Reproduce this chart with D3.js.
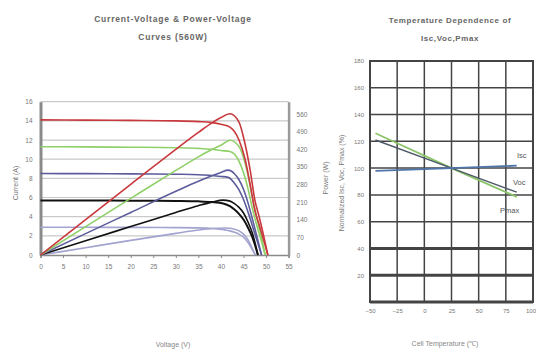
<!DOCTYPE html>
<html><head><meta charset="utf-8">
<script src="https://cdn.jsdelivr.net/npm/d3@7"></script>
<style>body{margin:0;background:#fff}svg{display:block}text{font-family:Arial,"Liberation Sans",sans-serif}</style>
</head><body>
<svg id="c" width="536" height="349"></svg>
<script>
// ---------- Left chart data ----------
const voltTicks = [0,5,10,15,20,25,30,35,40,45,50,55];
const currentTicks = [0,2,4,6,8,10,12,14,16];
const powerTicks = [0,70,140,210,280,350,420,490,560];
const seriesNames = ["1000","800","600","400","200"];
const seriesColors = ["#c8383c","#8fd068","#5c5c9c","#111111","#a3a3cf"];

const vRed   = [0,10,20,30,35,38,40,42,44,45.3,46.5,47.5,48.5,49.5,50.4];
const iRed   = [14.1,14.08,14.05,14.0,13.92,13.82,13.65,13.35,12.0,10.1,7.3,4.7,3.1,1.5,0];
const pRed   = [0,141,281,420,487,525,546,561,528,445,335,220,150,74,0];

const vGreen = [0,10,20,30,35,38,40,42,44,45,46,47,48,49,49.8];
const iGreen = [11.3,11.28,11.25,11.2,11.13,11.03,10.9,10.8,9.8,8.6,6.9,4.8,3.0,1.4,0];
const pGreen = [0,113,225,336,390,419,436,456,431,387,317,226,144,69,0];

const vBlue  = [0,10,20,30,35,38,40,41.6,43,44,45,46,47,48,49];
const iBlue  = [8.5,8.49,8.47,8.43,8.38,8.3,8.2,8.1,7.5,6.8,5.8,4.5,3.0,1.5,0];
const pBlue  = [0,85,169,253,293,315,328,337,323,299,261,207,141,72,0];

const vBlack = [0,10,20,30,35,38,40.5,42,43,44,45,46,47,48.2];
const iBlack = [5.7,5.69,5.67,5.64,5.6,5.53,5.38,5.1,4.75,4.3,3.7,2.85,1.8,0];
const pBlack = [0,57,113,169,196,210,218,214,204,189,167,131,85,0];

const vPurple = [0,10,20,30,35,38,40.9,42,43,44,45,46,47.6];
const iPurple = [2.9,2.89,2.88,2.86,2.83,2.77,2.62,2.52,2.38,2.18,1.85,1.3,0];
const pPurple = [0,29,58,86,99,105,107,106,102,96,83,60,0];

// ---------- Right chart data ----------
const tempTicks = [-50,-25,0,25,50,75,100];
const normTicks = [0,20,40,60,80,100,120,140,160,180];
const temps = [-45,25,85];
const iscVals = [98,100,101.8];
const vocVals = [121,100,82];
const pmaxVals = [126,100,78.5];

// ---------- Drawing ----------
const svg = d3.select("#c");
const gray = "#777";

// Left chart scales
const L = {x0:40.5, x1:288.6, y0:255, y1:101.7};
const xV = d3.scaleLinear().domain([0,55]).range([L.x0,L.x1]);
const yI = d3.scaleLinear().domain([0,16]).range([L.y0,L.y1]);
const yP = d3.scaleLinear().domain([0,609]).range([L.y0,L.y1]);

const gl = svg.append("g");
// gridlines
gl.append("g").selectAll("line").data(currentTicks.slice(1)).join("line")
  .attr("x1",L.x0).attr("x2",L.x1).attr("y1",d=>yI(d)).attr("y2",d=>yI(d))
  .attr("stroke","#c9c9c9").attr("stroke-width",1.2);

// bottom axis
const xAxisL = d3.axisBottom(xV).tickValues(voltTicks).tickSize(3).tickPadding(6);
const gxL = gl.append("g").attr("transform",`translate(0,${L.y0})`).call(xAxisL);
gxL.select(".domain").attr("stroke","#8a8a8a").attr("stroke-width",1.5);
gxL.selectAll(".tick line").attr("stroke","#8a8a8a");
gxL.selectAll("text").attr("font-size",6.5).attr("fill",gray);

// left axis
const yAxisL = d3.axisLeft(yI).tickValues(currentTicks).tickSize(0).tickPadding(8);
const gyL = gl.append("g").attr("transform",`translate(${L.x0},0)`).call(yAxisL);
gyL.select(".domain").attr("stroke","#8a8a8a").attr("stroke-width",3);
gyL.selectAll("text").attr("font-size",6.5).attr("fill",gray);

// right axis
const yAxisR = d3.axisRight(yP).tickValues(powerTicks).tickSize(0).tickPadding(8);
const gyR = gl.append("g").attr("transform",`translate(${L.x1},0)`).call(yAxisR);
gyR.select(".domain").attr("stroke","#9a9a9a").attr("stroke-width",2.5);
gyR.selectAll("text").attr("font-size",6.5).attr("fill",gray);

// curves
const ivData = [[vRed,iRed],[vGreen,iGreen],[vBlue,iBlue],[vBlack,iBlack],[vPurple,iPurple]];
const pvData = [[vRed,pRed],[vGreen,pGreen],[vBlue,pBlue],[vBlack,pBlack],[vPurple,pPurple]];
const lineI = d3.line().x(d=>xV(d[0])).y(d=>yI(d[1])).curve(d3.curveMonotoneX);
const lineP = d3.line().x(d=>xV(d[0])).y(d=>yP(d[1])).curve(d3.curveMonotoneX);
const order = [4,3,2,1,0];
order.forEach(k=>{
  const iv = ivData[k][0].map((v,j)=>[v,ivData[k][1][j]]);
  const pv = pvData[k][0].map((v,j)=>[v,pvData[k][1][j]]);
  gl.append("path").attr("d",lineI(iv)).attr("fill","none")
    .attr("stroke",seriesColors[k]).attr("stroke-width",k===3?2:1.6);
  gl.append("path").attr("d",lineP(pv)).attr("fill","none")
    .attr("stroke",seriesColors[k]).attr("stroke-width",1.6);
});

// left titles / labels
gl.append("text").attr("x",173).attr("y",22).attr("text-anchor","middle")
  .attr("font-size",8.5).attr("font-weight","bold").attr("fill","#666").attr("letter-spacing",0.8)
  .text("Current-Voltage & Power-Voltage");
gl.append("text").attr("x",173).attr("y",40).attr("text-anchor","middle")
  .attr("font-size",8.5).attr("font-weight","bold").attr("fill","#666").attr("letter-spacing",0.8)
  .text("Curves (560W)");
gl.append("text").attr("transform","translate(18,183) rotate(-90)").attr("text-anchor","middle")
  .attr("font-size",7).attr("fill",gray).text("Current (A)");
gl.append("text").attr("transform","translate(328,178) rotate(-90)").attr("text-anchor","middle")
  .attr("font-size",7).attr("fill",gray).text("Power (W)");
gl.append("text").attr("x",173).attr("y",347).attr("text-anchor","middle")
  .attr("font-size",7).attr("fill","#888").text("Voltage (V)");

// Right chart
const R = {x0:370, x1:533, y0:302, y1:61};
const xT = d3.scaleLinear().domain([-50,100]).range([R.x0,R.x1]);
const yN = d3.scaleLinear().domain([0,180]).range([R.y0,R.y1]);
const gr = svg.append("g");
gr.append("g").selectAll("line").data(tempTicks).join("line")
  .attr("x1",d=>xT(d)).attr("x2",d=>xT(d)).attr("y1",R.y0).attr("y2",R.y1)
  .attr("stroke","#444").attr("stroke-width",1.5);
gr.append("g").selectAll("line").data(normTicks).join("line")
  .attr("x1",R.x0).attr("x2",R.x1).attr("y1",d=>yN(d)).attr("y2",d=>yN(d))
  .attr("stroke","#444").attr("stroke-width",d=>(d===20||d===40||d===0)?3:1.5);
gr.append("rect").attr("x",R.x0).attr("y",R.y1).attr("width",R.x1-R.x0).attr("height",R.y0-R.y1)
  .attr("fill","none").attr("stroke","#444").attr("stroke-width",2);

const gxR = gr.append("g").attr("transform",`translate(0,${R.y0})`)
  .call(d3.axisBottom(xT).tickValues(tempTicks).tickSize(0).tickPadding(7));
gxR.select(".domain").remove();
gxR.selectAll("text").attr("font-size",6).attr("fill",gray)
  .filter(d=>d===100).attr("text-anchor","end").attr("dx",2.5);
const gyN = gr.append("g").attr("transform",`translate(${R.x0},0)`)
  .call(d3.axisLeft(yN).tickValues(normTicks.slice(1)).tickSize(0).tickPadding(6));
gyN.select(".domain").remove();
gyN.selectAll("text").attr("font-size",6).attr("fill",gray);

const lineT = (vals)=>d3.line().x(d=>xT(d[0])).y(d=>yN(d[1]))(temps.map((t,j)=>[t,vals[j]]));
gr.append("path").attr("d",lineT(pmaxVals)).attr("fill","none").attr("stroke","#8cc46a").attr("stroke-width",1.8);
gr.append("path").attr("d",lineT(vocVals)).attr("fill","none").attr("stroke","#4d5a66").attr("stroke-width",1.4);
gr.append("path").attr("d",lineT(iscVals)).attr("fill","none").attr("stroke","#4f74a8").attr("stroke-width",1.8);

gr.append("text").attr("x",517).attr("y",158).attr("font-size",7.5).attr("fill","#555").text("Isc");
gr.append("text").attr("x",513).attr("y",185).attr("font-size",7.5).attr("fill","#555").text("Voc");
gr.append("text").attr("x",500).attr("y",213).attr("font-size",7.5).attr("fill","#555").text("Pmax");

gr.append("text").attr("x",450).attr("y",23).attr("text-anchor","middle")
  .attr("font-size",8).attr("font-weight","bold").attr("fill","#666").attr("letter-spacing",0.6)
  .text("Temperature Dependence of");
gr.append("text").attr("x",450).attr("y",41).attr("text-anchor","middle")
  .attr("font-size",8).attr("font-weight","bold").attr("fill","#666").attr("letter-spacing",0.6)
  .text("Isc,Voc,Pmax");
gr.append("text").attr("transform","translate(344,183) rotate(-90)").attr("text-anchor","middle")
  .attr("font-size",7).attr("fill",gray).text("Normalized Isc, Voc, Pmax (%)");
gr.append("text").attr("x",445).attr("y",346).attr("text-anchor","middle")
  .attr("font-size",7).attr("fill","#888").text("Cell Temperature (℃)");
</script>
</body></html>
